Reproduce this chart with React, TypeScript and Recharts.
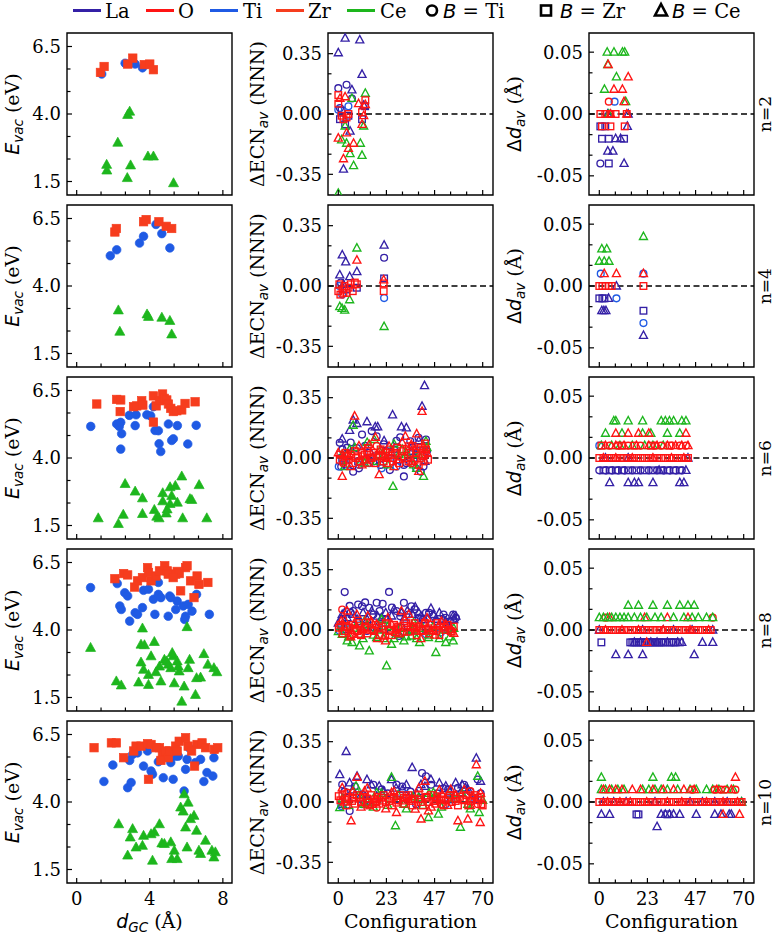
import React from 'react';
import { ScatterChart, Scatter, XAxis, YAxis, ReferenceArea, ReferenceLine } from 'recharts';

type XY = [number, number];
type Series = [string, XY[]];
type Band = [string, number, number[]];

// ---------- tick values and labels ----------
const xGcTicks = [0, 1.333, 2.667, 4, 5.333, 6.667, 8];
const xGcLabels = ['0', '', '', '4', '', '', '8'];
const xCfgTicks = [0, 7.78, 15.56, 23.33, 31.11, 38.89, 46.67, 54.44, 62.22, 70];
const xCfgLabels = ['0', '', '', '23', '', '', '47', '', '', '70'];
const yEvacTicks = [1.5, 2.333, 3.167, 4, 4.833, 5.667, 6.5];
const yEvacLabels = ['1.5', '', '', '4.0', '', '', '6.5'];
const yEcnTicks = [-0.35, -0.2333, -0.1167, 0, 0.1167, 0.2333, 0.35];
const yEcnLabels = ['-0.35', '', '', '0.00', '', '', '0.35'];
const yDdTicks = [-0.05, -0.0333, -0.0167, 0, 0.0167, 0.0333, 0.05];
const yDdLabels = ['-0.05', '', '', '0.00', '', '', '0.05'];
const rowNames = ['n=2', 'n=4', 'n=6', 'n=8', 'n=10'];
const legendElems = ['La', 'O', 'Ti', 'Zr', 'Ce'];
const legendSites = ['Ti', 'Zr', 'Ce'];

// ---------- column 1: E_vac vs d_GC ----------
const evacTiN2: XY[] = [[1.37, 5.48], [2.65, 5.88], [3.2, 5.85], [3.6, 5.71]];
const evacZrN2: XY[] = [[1.3, 5.54], [1.5, 5.76], [2.8, 5.85], [3.07, 6.07], [3.7, 5.83], [4.0, 5.85], [4.2, 5.64]];
const evacCeN2: XY[] = [[1.64, 2.12], [1.65, 1.91], [2.25, 2.94], [2.79, 3.97], [2.9, 4.09], [2.77, 1.63], [2.95, 2.1], [3.9, 2.43], [4.2, 2.43], [5.3, 1.44]];

const evacTiN4: XY[] = [[1.84, 5.12], [2.19, 5.34], [3.44, 5.59], [3.66, 5.84], [4.34, 6.28], [4.66, 5.94], [5.1, 5.41]];
const evacZrN4: XY[] = [[2.09, 6.0], [2.17, 6.13], [3.66, 6.38], [3.8, 6.46], [4.5, 6.38], [4.9, 6.21], [5.2, 6.13]];
const evacCeN4: XY[] = [[2.28, 3.1], [2.36, 2.31], [3.85, 2.95], [3.93, 2.86], [4.66, 2.83], [5.1, 2.71], [5.2, 2.21]];

const evacTiN6: XY[] = [[0.77, 5.17], [2.19, 5.26], [2.33, 5.17], [2.41, 5.32], [2.46, 4.9], [2.41, 4.33], [2.88, 5.58], [3.25, 5.6], [3.2, 5.2], [3.84, 5.6], [4.05, 5.56], [4.2, 5.9], [4.29, 5.02], [4.47, 5.01], [4.51, 4.53], [4.6, 4.24], [5.02, 5.26], [5.2, 4.65], [5.29, 4.71], [5.51, 5.2], [6.08, 4.52], [6.54, 5.21]];
const evacZrN6: XY[] = [[1.1, 6.0], [2.19, 6.17], [2.41, 6.15], [2.38, 5.72], [3.11, 5.9], [3.29, 5.93], [3.56, 6.12], [3.62, 5.96], [4.2, 6.3], [4.35, 5.93], [4.53, 6.12], [4.7, 6.37], [4.79, 6.21], [4.93, 6.15], [5.02, 6.0], [5.15, 5.84], [5.29, 5.72], [5.48, 5.75], [5.75, 5.78], [5.93, 6.02], [6.48, 6.08], [4.2, 5.33]];
const evacCeN6: XY[] = [[1.18, 1.77], [2.28, 1.56], [2.65, 3.04], [2.55, 1.9], [3.2, 2.76], [3.6, 2.51], [3.6, 1.93], [4.25, 2.08], [4.38, 1.83], [4.51, 1.77], [4.71, 2.7], [4.71, 2.4], [5.11, 2.3], [5.11, 2.92], [5.4, 2.97], [5.51, 2.35], [5.75, 3.32], [5.8, 1.77], [6.2, 2.48], [6.3, 2.45], [6.7, 3.0], [7.12, 1.77], [4.95, 2.1], [5.2, 2.6], [4.9, 1.95]];

const evacTiN8: XY[] = [[0.76, 5.57], [2.22, 5.72], [2.63, 5.38], [2.79, 5.26], [2.36, 4.89], [2.44, 4.76], [2.9, 4.33], [3.2, 4.64], [3.33, 4.58], [3.6, 4.83], [3.66, 5.47], [3.93, 5.51], [4.2, 5.14], [4.28, 4.58], [4.47, 5.76], [4.47, 5.32], [4.61, 5.2], [5.01, 4.51], [5.09, 5.26], [5.15, 5.2], [5.42, 4.76], [5.5, 5.07], [5.83, 4.89], [5.96, 4.51], [5.91, 4.39], [6.1, 4.95], [6.31, 4.7], [6.56, 5.32], [7.26, 4.58]];
const evacZrN8: XY[] = [[2.09, 5.9], [2.57, 6.09], [2.79, 6.04], [3.17, 5.59], [3.33, 5.82], [3.6, 5.94], [3.88, 6.31], [3.93, 6.13], [4.07, 5.82], [4.34, 6.0], [4.53, 6.19], [4.82, 6.38], [4.96, 6.19], [5.01, 6.07], [5.42, 6.07], [5.5, 6.17], [5.61, 6.09], [5.69, 5.45], [5.96, 6.31], [6.04, 6.38], [6.23, 5.82], [6.42, 5.2], [6.59, 6.0], [6.69, 5.69], [7.18, 5.76], [5.28, 5.94]];
const evacCeN8: XY[] = [[0.76, 3.34], [2.17, 2.1], [2.44, 1.95], [3.39, 2.06], [3.52, 3.46], [3.71, 3.44], [3.93, 2.34], [3.93, 1.97], [4.34, 2.44], [4.25, 3.56], [4.53, 2.65], [4.61, 2.1], [4.8, 2.9], [4.93, 2.84], [5.01, 2.72], [5.15, 2.59], [5.28, 3.03], [5.34, 2.03], [5.5, 2.84], [5.75, 1.35], [5.61, 2.47], [5.88, 1.91], [6.04, 4.11], [6.1, 2.59], [6.18, 2.9], [6.5, 1.6], [6.56, 2.22], [6.78, 2.24], [6.96, 3.11], [7.18, 2.72], [7.51, 2.59], [7.67, 2.44], [3.52, 2.8], [3.66, 2.53], [4.07, 3.03], [5.23, 3.15], [5.56, 2.65], [3.6, 4.06]];

const evacTiN10: XY[] = [[1.49, 4.76], [1.98, 5.37], [2.79, 4.53], [2.98, 4.72], [2.9, 5.54], [3.06, 5.76], [3.66, 5.33], [3.88, 5.89], [4.07, 5.15], [4.15, 5.03], [4.47, 5.49], [4.74, 4.9], [5.15, 5.46], [5.28, 4.84], [5.42, 5.7], [5.56, 5.7], [5.88, 4.41], [5.96, 5.21], [6.04, 5.58], [6.15, 6.01], [6.5, 5.46], [6.78, 5.58], [6.96, 4.76], [7.13, 5.09], [7.45, 4.96], [7.51, 5.64], [3.33, 5.82], [4.88, 5.76]];
const evacZrN10: XY[] = [[0.95, 6.01], [1.9, 6.19], [2.17, 6.19], [2.57, 5.64], [3.12, 5.89], [3.25, 6.07], [3.52, 6.07], [3.88, 6.16], [3.93, 4.84], [4.07, 6.13], [4.53, 6.01], [4.69, 5.82], [4.61, 5.54], [4.88, 5.89], [5.01, 5.64], [5.09, 5.89], [5.42, 6.07], [5.61, 6.25], [5.96, 6.38], [6.1, 6.07], [6.45, 5.33], [6.59, 6.13], [6.86, 6.19], [7.05, 6.01], [7.53, 5.95], [7.72, 6.01], [4.34, 6.01], [5.5, 5.89], [6.29, 5.89]];
const evacCeN10: XY[] = [[2.3, 3.18], [2.79, 2.02], [2.93, 2.69], [3.06, 3.0], [3.25, 2.32], [3.6, 2.38], [3.66, 2.75], [4.07, 2.81], [4.15, 1.83], [4.25, 2.88], [4.53, 3.18], [4.66, 2.47], [4.8, 2.45], [5.15, 2.51], [5.2, 1.89], [5.34, 2.2], [5.5, 1.89], [5.69, 3.8], [5.88, 4.29], [5.96, 3.06], [6.04, 2.32], [6.23, 3.37], [6.42, 3.49], [6.56, 2.94], [6.69, 2.2], [6.78, 2.08], [7.05, 2.57], [7.4, 2.2], [7.51, 1.95], [7.59, 2.14], [6.1, 3.98], [5.83, 3.65]];

// ---------- column 2: delta ECN_av vs configuration ----------
const ecnN2: Series[] = [
  ['Lc', [[0, 0.15], [4, 0.17], [6.6, 0.09], [0.8, 0.035]]],
  ['Ls', [[0.8, -0.03], [3.3, -0.06], [4.9, -0.01], [11.5, -0.03], [13, 0.045], [1.6, 0.02]]],
  ['Lt', [[3.3, 0.44], [10.4, 0.43], [0, 0.355], [11.5, 0.23], [6.6, 0.14], [2.5, -0.32], [5.7, -0.1], [12.3, 0.05]]],
  ['Tc', [[0, 0.025], [4.9, 0.045]]],
  ['Ct', [[13.1, 0.12], [6.6, 0.09], [3.3, -0.07], [1.6, -0.15], [4, -0.17], [5.7, -0.23], [7.4, -0.3], [10.7, -0.17], [11.5, -0.24], [0, -0.46], [12.3, -0.07]]],
  ['Os', [[0, 0.11], [0, 0.06], [1.6, -0.01], [4, -0.02], [2.5, -0.03], [4.9, 0.0], [13.1, 0.08], [11.5, 0.01]]],
  ['Ot', [[0.8, 0.09], [3.3, 0.1], [0, -0.14], [4, -0.11], [2.5, -0.26], [4.9, -0.2], [7.4, -0.17], [9.8, 0.06], [11.5, -0.06], [13.1, 0.055], [12.3, -0.01]]],
];
const ecnN4: Series[] = [
  ['Lc', [[22.2, 0.164], [1.2, 0.02]]],
  ['Ls', [[22.2, 0.044], [9, -0.01], [4, -0.02]]],
  ['Lt', [[1.9, 0.18], [3.6, 0.14], [0.7, 0.064], [5.5, 0.054], [9, 0.083], [22.2, 0.237], [2.5, 0.01]]],
  ['Tc', [[1.9, -0.05], [22.2, -0.07], [0.5, 0.0]]],
  ['Ct', [[9, 0.22], [0.7, -0.12], [3.1, -0.14], [5.5, -0.08], [22.2, -0.235], [1.8, -0.13]]],
  ['Os', [[0, -0.03], [1, -0.05], [2, -0.02], [3, 0.0], [4, -0.04], [5, -0.01], [6, 0.01], [7, -0.03], [8, 0.02], [9, 0.01], [22, 0.015], [22, -0.03], [0.5, 0.01], [2.5, -0.04]]],
  ['Ot', [[9, 0.15], [22, 0.035]]],
];
const ecnN6: Series[] = [
  ['Lc', [[0.7, 0.088], [1.4, -0.05], [4.3, 0.06], [7.2, -0.08], [11.5, 0.136], [16.2, 0.156], [18.6, 0.126], [20.5, -0.04], [23.4, 0.04], [28.2, 0.1], [31.8, -0.04], [31.8, -0.107], [34.9, 0.097], [38.9, 0.117], [37.7, 0.02], [41.3, -0.05], [42.5, 0.107], [9, 0.058], [15, 0.03], [2, 0.05], [6, 0.09], [10, -0.06], [13, 0.07], [17, -0.02], [22, 0.08], [25, -0.07], [27, 0.05], [30, 0.12], [33, -0.03], [36, 0.06], [40, -0.08], [43, 0.04]]],
  ['Ls', [[1.9, 0], [9.6, -0.02], [18.6, 0.01], [28.2, -0.01], [36.5, 0], [39.7, 0.04]]],
  ['Lt', [[1.9, 0.11], [5.5, 0.16], [7.2, 0.22], [9, 0.2], [13.9, 0.21], [17.9, 0.18], [19.1, 0.18], [22.2, 0.1], [26.3, 0.25], [30.6, 0.18], [33, 0.175], [40.6, 0.3], [41.8, 0.42], [39, 0.1], [4.3, -0.04], [12.7, -0.01], [25.8, 0.03], [35.4, 0.04], [42, -0.02]]],
  ['Tc', [[0.2, -0.05], [3.1, -0.01], [10.3, -0.04], [15, -0.03], [21, -0.06], [28.2, -0.05], [37.7, -0.06]]],
  ['Zs', [[11.5, 0.01], [25.8, 0.02], [40.1, 0]]],
  ['Ct', [[7.2, 0.19], [1.9, 0.02], [5.5, 0.05], [12.7, -0.03], [17.4, 0.107], [18.6, -0.02], [22.2, 0.02], [26.5, -0.165], [29.4, 0.02], [31, 0.05], [36.5, -0.04], [41.3, -0.107], [42.5, 0.097], [39, 0.02], [3, -0.05], [8, 0.06], [11, -0.02], [14, 0.09], [20, 0.04], [24, -0.04], [27, 0.08], [33, 0.03], [38, -0.06], [43, 0.06]]],
  ['Oc', [[2.4, -0.03], [18.6, 0.07], [35.4, -0.03]]],
  ['Os', [[0.7, -0.01], [4.3, 0.01], [8.6, 0], [12.7, 0.02], [16.2, 0], [21.5, 0.01], [25.8, 0], [30.6, 0.01], [34.2, 0.068], [37.7, 0.03], [41.8, 0.02], [42, 0.084], [14.3, 0.058], [23.4, -0.03], [41.3, -0.02], [1, 0.02], [2.5, -0.02], [3.5, 0.03], [5, -0.01], [6, 0.02], [7, -0.03], [8, 0.04], [9.5, 0.01], [10.5, -0.02], [11.5, 0.03], [13, -0.01], [14, 0.04], [15.5, 0.0], [17, 0.03], [18, -0.03], [19.5, 0.02], [20.5, 0.05], [22, -0.02], [23, 0.03], [24, 0.0], [25, 0.05], [26.5, -0.02], [27.5, 0.03], [28.5, 0.06], [29.5, -0.03], [31, 0.04], [32, 0.0], [33, 0.05], [34, -0.02], [35, 0.03], [36, 0.07], [37, -0.01], [38, 0.05], [39, -0.04], [40, 0.06], [41, 0.01], [42.5, 0.05], [43.5, -0.01]]],
  ['Ot', [[1.9, -0.107], [7.9, 0.243], [11.5, -0.04], [15, 0.078], [19.8, -0.097], [21, 0.04], [24.6, 0.068], [29.4, -0.01], [32.5, 0.126], [35.4, 0.078], [39, -0.078], [40.6, 0.27], [41.3, 0.068], [4.3, 0.02], [16.7, 0.01], [0, 0.03], [6, -0.05], [10, 0.07], [14, -0.03], [18, 0.12], [23, 0.0], [27, -0.05], [31, 0.09], [36, -0.02], [38, 0.14], [43, 0.03]]],
];
const ecnN8: Series[] = [
  ['Lc', [[3.1, 0.22], [5.5, 0.14], [7.2, 0.11], [9.6, 0.148], [11.5, 0.138], [15, 0.129], [18.6, 0.158], [21.5, 0.152], [24.6, 0.221], [28.2, 0.11], [31.8, 0.158], [35.4, 0.138], [38.9, 0.071], [42.5, 0.1], [46.1, 0.081], [52.1, 0.071], [55.7, 0.09], [1.4, 0.023], [13.9, -0.006], [29.4, -0.035], [2, 0.06], [6, 0.1], [10, 0.05], [13, 0.16], [17, 0.09], [20, 0.11], [23, 0.06], [26, 0.13], [30, 0.08], [34, 0.09], [37, 0.12], [41, 0.06], [44, 0.1], [48, 0.05], [51, 0.09], [54, 0.05], [57, 0.07]]],
  ['Ls', [[4.3, 0.004], [13.9, 0.023], [22.2, 0.004], [30.6, 0.013], [42.5, 0.004], [53.3, 0.004]]],
  ['Lt', [[1.9, 0.09], [4.3, 0.071], [9.1, 0.062], [16.2, 0.11], [21, 0.071], [25.8, 0.081], [30.6, 0.1], [33.4, 0.11], [37.3, 0.133], [40.1, 0.081], [44.9, 0.125], [47.3, 0.062], [50.9, 0.062], [53.3, 0.033], [55.7, 0.081], [18.6, 0.013], [35.4, -0.006], [0, 0.04], [3, 0.1], [7, 0.09], [12, 0.1], [14, 0.06], [19, 0.08], [23, 0.1], [27, 0.12], [32, 0.07], [36, 0.09], [39, 0.1], [42, 0.06], [46, 0.09], [49, 0.1], [52, 0.05], [56, 0.06], [57, 0.08]]],
  ['Tc', [[0.7, -0.006], [28.2, -0.025], [42.5, -0.025], [49.7, -0.015]]],
  ['Zs', [[10.3, 0.023], [37.7, 0.023]]],
  ['Ct', [[4.3, -0.063], [6.7, -0.073], [10.3, -0.092], [15, -0.121], [18.6, -0.044], [23.4, -0.208], [25.8, -0.083], [29.4, -0.025], [31.8, -0.063], [35.4, -0.035], [39.4, -0.073], [43.7, -0.044], [47.3, -0.131], [52.1, -0.073], [55.7, -0.063], [12.7, 0.052], [21, 0.062], [36.5, 0.042], [1.9, -0.025], [0, -0.01], [3, 0.02], [5, -0.04], [8, 0.01], [12, -0.05], [14, 0.03], [17, -0.03], [20, 0.0], [22, -0.05], [24, 0.02], [27, -0.05], [30, 0.01], [33, -0.04], [36, 0.0], [38, -0.05], [41, 0.01], [44, -0.03], [46, 0.02], [49, -0.05], [51, 0.0], [54, -0.04], [56, 0.01]]],
  ['Oc', [[1.9, 0.119], [6.7, -0.025], [16.2, 0.004], [33, 0.013]]],
  ['Os', [[0.2, 0.013], [3.1, -0.006], [5.5, 0.013], [9.1, -0.006], [12.7, 0.013], [17.4, -0.006], [19.8, 0.013], [24.6, -0.006], [28.2, 0.01], [31.8, -0.01], [36.5, 0.013], [40.1, -0.006], [43.7, 0.01], [47.3, -0.006], [50.9, 0.013], [54.5, -0.006], [1, 0.03], [2, -0.02], [4, 0.02], [6, -0.03], [7, 0.03], [8, 0.0], [10, 0.04], [11, -0.03], [13, 0.02], [14, -0.02], [15, 0.04], [16, 0.0], [18, 0.03], [20, -0.03], [21, 0.02], [23, 0.04], [25, 0.0], [26, -0.03], [27, 0.03], [29, 0.02], [30, -0.02], [33, 0.04], [34, -0.01], [35, 0.02], [37, 0.04], [38, -0.03], [39, 0.02], [41, 0.0], [42, 0.04], [44, -0.02], [45, 0.03], [46, 0.0], [48, 0.04], [49, -0.03], [51, 0.02], [52, 0.0], [53, 0.03], [55, -0.01], [56, 0.02]]],
  ['Ot', [[1.4, 0.052], [4.3, 0.11], [7.9, 0.042], [10.3, -0.025], [14.3, 0.081], [18.6, 0.033], [22.2, -0.035], [22.9, -0.063], [25.8, 0.033], [27.7, -0.015], [30.6, 0.11], [34.2, 0.09], [37.7, -0.006], [41.3, 0.042], [44.9, -0.006], [48.5, 0.023], [52.1, 0.033], [54.9, 0.004], [11.5, 0.004], [3, 0.06], [6, -0.04], [9, 0.09], [12, 0.0], [16, 0.05], [19, -0.05], [24, 0.07], [28, 0.0], [32, 0.06], [36, 0.02], [40, -0.05], [43, 0.07], [47, -0.03], [50, 0.05], [56, -0.02]]],
];
const ecnN10: Series[] = [
  ['Lc', [[1.9, 0.101], [5.5, -0.052], [15, 0.006], [21, 0.073], [28.2, 0.101], [40.6, 0.168], [42.5, 0.149], [53.3, 0.073], [58, 0.082], [67.6, 0.13], [37.7, -0.013], [3, 0.06], [8, 0.09], [12, 0.04], [17, 0.1], [24, 0.05], [31, 0.09], [35, 0.06], [45, 0.1], [48, 0.05], [51, 0.08], [56, 0.04], [61, 0.1], [64, 0.06], [69, 0.05]]],
  ['Ls', [[4.3, 0.025], [13.9, 0.015], [28.2, 0.015], [40.1, 0.025], [54.5, 0.015], [66.4, 0.015]]],
  ['Lt', [[0.7, 0.159], [3.8, 0.293], [5.5, 0.111], [9.1, 0.149], [13.9, 0.13], [19.8, 0.092], [25.8, 0.13], [31.1, 0.073], [35.8, 0.2], [40.1, 0.101], [44.9, 0.13], [52.1, 0.092], [56.9, 0.111], [61.6, 0.082], [66.9, 0.254], [59.2, 0.054], [47.3, 0.034], [18.6, 0.034], [1.9, -0.013], [7, 0.07], [11, 0.04], [16, 0.1], [22, 0.06], [28, 0.08], [33, 0.1], [38, 0.05], [42, 0.09], [49, 0.11], [54, 0.06], [60, 0.1], [63, 0.07], [69, 0.12]]],
  ['Tc', [[1.4, -0.023], [11.5, -0.013], [33, 0.044], [52.1, -0.013]]],
  ['Zs', [[18.6, 0.006], [47.3, 0.025]]],
  ['Ct', [[0.7, -0.033], [8.6, 0.092], [12.7, -0.013], [25.8, 0.143], [27.7, -0.138], [31.8, -0.013], [38.9, 0.025], [43.7, -0.09], [48.5, -0.071], [53.3, 0.044], [59.2, -0.147], [62.8, -0.013], [67.6, 0.149], [68.3, -0.061], [18.6, 0.054], [46.1, 0.054], [2, 0.02], [5, -0.02], [10, 0.04], [14, 0.0], [17, -0.03], [21, 0.05], [24, -0.02], [29, 0.04], [33, -0.04], [36, 0.03], [41, -0.02], [44, 0.05], [50, -0.03], [56, 0.02], [60, 0.05], [64, -0.04], [70, 0.01]]],
  ['Oc', [[4.3, 0.054], [18.6, -0.033], [35.4, 0.015], [49.7, -0.013], [64, 0.063], [67.6, -0.013]]],
  ['Os', [[0.2, 0.034], [3.1, 0.015], [6.7, 0.006], [10.3, 0.025], [13.9, -0.004], [17.4, 0.015], [21, 0.025], [24.6, 0.006], [28.2, -0.004], [31.8, 0.025], [35.4, 0.006], [38.9, 0.015], [42.5, 0.025], [46.1, 0.006], [49.7, 0.015], [53.3, 0.025], [56.9, 0.006], [60.4, 0.015], [64, 0.006], [67.6, 0.025], [69.3, -0.013], [1, 0.01], [2, 0.04], [4, -0.02], [5, 0.03], [7, 0.02], [8, -0.01], [9, 0.04], [11, 0.0], [12, 0.03], [14, 0.02], [15, -0.02], [16, 0.04], [18, 0.0], [19, 0.03], [20, -0.01], [22, 0.04], [23, 0.0], [25, 0.02], [26, -0.02], [27, 0.03], [29, 0.01], [30, 0.04], [32, -0.01], [33, 0.02], [34, 0.04], [36, -0.02], [37, 0.02], [39, 0.04], [40, 0.0], [41, -0.02], [43, 0.03], [44, 0.0], [45, 0.04], [47, -0.01], [48, 0.02], [50, 0.03], [51, -0.02], [52, 0.01], [54, 0.04], [55, 0.0], [57, 0.02], [58, -0.02], [59, 0.03], [61, 0.01], [62, 0.04], [63, -0.02], [65, 0.02], [66, 0.04], [68, 0.01], [69, 0.03], [70, -0.02]]],
  ['Ot', [[1.9, 0.082], [6.2, -0.109], [9.1, 0.143], [12.7, 0.063], [16.2, -0.013], [21.5, 0.006], [25.8, 0.054], [28.2, -0.061], [31.1, 0.006], [37.3, -0.042], [40.1, -0.099], [42, 0.12], [43.7, -0.052], [47.3, 0.006], [50.4, 0.044], [54.5, 0.073], [58, -0.109], [62.8, -0.099], [66.9, 0.216], [68.8, -0.119], [65.2, 0.034], [3, 0.0], [7, 0.06], [11, -0.03], [14, 0.08], [18, 0.02], [23, -0.04], [27, 0.06], [34, 0.03], [39, 0.08], [45, -0.03], [49, 0.07], [53, -0.02], [57, 0.04], [61, 0.07], [64, -0.02], [69, 0.05]]],
];

// ---------- column 3: delta d_av vs configuration (code, value, configurations) ----------
const ddN2: Band[] = [
  ['Lc', -0.04, [0.5]],
  ['Ls', -0.01, [0.5, 2.9]], ['Ls', -0.02, [1.3, 4.6, 12]], ['Ls', -0.04, [4.6]],
  ['Lt', 0, [4.1, 14]], ['Lt', -0.01, [13.6]], ['Lt', -0.02, [7.9, 10.3]], ['Lt', -0.03, [4.1, 6.6]], ['Lt', -0.04, [12]],
  ['Tc', 0.01, [7.4]],
  ['Ct', 0.05, [3.8, 7.1, 11.2, 12.3]], ['Ct', 0.04, [4.1]], ['Ct', 0.03, [8.3]], ['Ct', 0.02, [2.5]], ['Ct', 0.01, [12.8]], ['Ct', 0, [4.6]],
  ['Oc', 0.01, [4.6]],
  ['Os', 0, [0.5, 2.9, 5.4, 7.9, 13.3]], ['Os', -0.01, [1.3, 5.4, 12.3]],
  ['Ot', 0.04, [4.3]], ['Ot', 0.03, [14]], ['Ot', 0.02, [7.1, 11.2]], ['Ot', 0.01, [12]], ['Ot', 0, [5.5, 13.3]],
];
const ddN4: Band[] = [
  ['Ls', -0.01, [0, 1.5, 2.5]], ['Ls', -0.02, [21.4]],
  ['Lt', 0, [8.3]], ['Lt', -0.01, [4.5]], ['Lt', -0.02, [1.2, 2.2, 3.2]], ['Lt', -0.04, [21.4]],
  ['Tc', 0.01, [0.7, 21.4]], ['Tc', -0.01, [8.3]], ['Tc', -0.03, [21.4]],
  ['Ct', 0.04, [21.4]], ['Ct', 0.03, [1.2, 3.6]], ['Ct', 0.02, [0, 2.4, 4.7]],
  ['Os', 0, [0, 1.5, 3, 4.5, 6, 21.4]],
  ['Ot', 0.01, [2.4, 8.3, 21.4]],
];
const ddN6: Band[] = [
  ['Lc', -0.01, [0, 3, 6, 9, 12, 16, 20, 24, 28, 31, 34, 37, 40]],
  ['Ls', -0.01, [2, 5, 8, 11, 14, 18, 22, 26, 30, 33, 36, 39]],
  ['Lt', 0, [3, 14, 43]], ['Lt', -0.01, [29, 42]], ['Lt', -0.02, [5, 14, 17, 19, 26, 39, 41]],
  ['Tc', 0.01, [0]],
  ['Ct', 0.03, [7, 8, 14, 21, 30, 32, 34, 36, 40, 42]], ['Ct', 0.02, [3, 11, 21, 25, 33, 39]], ['Ct', 0.01, [1, 6, 10, 16, 22, 26, 31]],
  ['Oc', 0.01, [5, 9, 14, 20, 27, 30, 35, 39, 42]],
  ['Os', 0.01, [1, 11, 17, 25, 34]],
  ['Os', 0, [0, 2, 4, 6, 8, 10, 12, 14, 16, 18, 20, 22, 24, 26, 28, 30, 32, 34, 36, 38, 40, 42, 43]],
  ['Ot', 0.02, [8, 14, 19, 24, 42]], ['Ot', 0.01, [3, 8, 12, 18, 24, 28, 33, 37, 40, 43]], ['Ot', 0, [2, 8, 16, 26, 35, 41]],
];
const ddN8: Band[] = [
  ['Ls', -0.01, [1, 15, 16, 17, 18, 19, 20, 21, 22, 23, 24, 25, 26, 27, 28, 29, 30, 31, 32, 34, 35, 36, 37, 39]],
  ['Lt', 0, [0, 21, 31, 36, 45, 55]], ['Lt', -0.01, [17, 20, 25, 28, 33, 38, 40, 50, 55]], ['Lt', -0.02, [8, 14, 21, 46]],
  ['Os', 0, [0, 2, 4, 6, 8, 10, 12, 14, 16, 18, 20, 22, 24, 26, 28, 30, 32, 34, 36, 38, 40, 42, 44, 46, 48, 50, 52, 54]],
  ['Ot', 0.01, [5, 22, 33, 43]], ['Ot', 0, [3, 11, 19, 31, 44, 53]], ['Ot', -0.01, [23]],
  ['Oc', 0.01, [3, 55]],
  ['Ct', 0.02, [14, 19, 26, 33, 39, 43, 46]],
  ['Ct', 0.01, [0, 2, 4, 6, 8, 10, 12, 14, 17, 20, 23, 27, 30, 36, 41, 45, 48, 52, 55]],
];
const ddN10: Band[] = [
  ['Ls', -0.01, [18, 19, 33]],
  ['Lt', 0, [2, 7, 13, 27, 44, 50, 56, 62, 69]],
  ['Lt', -0.01, [1, 5, 30, 32, 34, 36, 39, 47, 56, 59, 63, 64]], ['Lt', -0.02, [28]],
  ['Ct', 0.02, [1, 26, 35, 37]],
  ['Ct', 0.01, [1, 3, 6, 9, 12, 21, 24, 27, 30, 33, 38, 44, 47, 52, 55, 58, 62, 65]], ['Ct', 0, [69]],
  ['Oc', 0.01, [45, 56, 59, 61, 66]],
  ['Os', 0, [0, 2, 4, 6, 8, 10, 12, 14, 16, 18, 20, 22, 24, 26, 28, 30, 32, 34, 36, 38, 40, 42, 44, 46, 48, 50, 52, 54, 56, 58, 60, 62, 64, 66, 68, 69]],
  ['Ot', 0.02, [66]], ['Ot', 0.01, [2, 5, 8, 11, 16, 20, 26, 31, 36, 41, 46, 57, 64]], ['Ot', 0, [4, 10, 15, 23, 33, 40, 52, 60, 67]], ['Ot', -0.01, [60, 68]],
];

// ---------- styling ----------
const FONT = "'DejaVu Serif', 'Liberation Serif', serif";
const MATH = "'DejaVu Sans', sans-serif";
const COLORS: Record<string, string> = { La: '#3420a6', O: '#ff1414', Ti: '#1f5ae4', Zr: '#f63d1e', Ce: '#1db61d' };
const ELEM: Record<string, string> = { L: 'La', O: 'O', T: 'Ti', Z: 'Zr', C: 'Ce' };

const PLOT_W = 165;
const PLOT_H = 162;
const AX_W = 64;
const AX_H = 40;
const PAD = 4;
const COL_LEFT = [67, 328, 589];
const ROW_TOP = [33, 205.1, 377.2, 549.3, 721.4];
const TICK_FS = 18;
const TITLE_FS = 19;
const SUB_FS = 13.5;
const LEG_FS = 19.5;

function bandsToSeries(bands: Band[]): Series[] {
  const order: string[] = [];
  const map: Record<string, XY[]> = {};
  bands.forEach(([code, v, cfgs]) => {
    if (!map[code]) {
      map[code] = [];
      order.push(code);
    }
    cfgs.forEach((c) => map[code].push([c, v]));
  });
  return order.map((c) => [c, map[c]] as Series);
}

function Marker({ cx, cy, code, filled }: { cx?: number; cy?: number; code: string; filled: boolean }) {
  if (cx == null || cy == null || isNaN(cx) || isNaN(cy)) return null;
  const color = COLORS[ELEM[code[0]]];
  const sh = code[1];
  const fill = filled ? color : 'none';
  const sw = filled ? 0.7 : 1.35;
  if (sh === 'c') {
    const r = filled ? 4.3 : 3.4;
    return <circle cx={cx} cy={cy} r={r} fill={fill} stroke={color} strokeWidth={sw} />;
  }
  if (sh === 's') {
    const s = filled ? 8.4 : 6.6;
    return <rect x={cx - s / 2} y={cy - s / 2} width={s} height={s} fill={fill} stroke={color} strokeWidth={sw} />;
  }
  const w = filled ? 10 : 8;
  const h = filled ? 9 : 7.4;
  return (
    <polygon
      points={`${cx},${cy - h * 0.6} ${cx - w / 2},${cy + h * 0.4} ${cx + w / 2},${cy + h * 0.4}`}
      fill={fill}
      stroke={color}
      strokeWidth={sw}
    />
  );
}

function findIdx(ticks: number[], v: number) {
  return ticks.findIndex((t) => Math.abs(t - v) < 1e-6);
}

function makeXTick(ticks: number[], labels: string[], show: boolean) {
  return (p: any) => {
    const lab = labels[findIdx(ticks, p.payload.value)] || '';
    const major = lab !== '';
    return (
      <g>
        <line x1={p.x} y1={p.y} x2={p.x} y2={p.y - (major ? 5 : 3.5)} stroke="#000" strokeWidth={1.2} />
        {show && major && (
          <text x={p.x} y={p.y + 21.5} textAnchor="middle" fontFamily={FONT} fontSize={TICK_FS} fill="#000">
            {lab}
          </text>
        )}
      </g>
    );
  };
}

function makeYTick(ticks: number[], labels: string[]) {
  return (p: any) => {
    const lab = labels[findIdx(ticks, p.payload.value)] || '';
    const major = lab !== '';
    return (
      <g>
        <line x1={p.x} y1={p.y} x2={p.x + (major ? 5 : 3.5)} y2={p.y} stroke="#000" strokeWidth={1.2} />
        {major && (
          <text x={p.x - 6} y={p.y} dy="0.36em" textAnchor="end" fontFamily={FONT} fontSize={TICK_FS} fill="#000">
            {lab}
          </text>
        )}
      </g>
    );
  };
}

type PanelProps = {
  left: number;
  top: number;
  xDomain: [number, number];
  xTicks: number[];
  xLabels: string[];
  showX: boolean;
  yDomain: [number, number];
  yTicks: number[];
  yLabels: string[];
  series: Series[];
  filled: boolean;
  zero: boolean;
};

function Panel(props: PanelProps) {
  const { left, top, xDomain, xTicks, xLabels, showX, yDomain, yTicks, yLabels, series, filled, zero } = props;
  return (
    <div style={{ position: 'absolute', left: left - AX_W, top: top - PAD }}>
      <ScatterChart
        width={AX_W + PLOT_W + PAD}
        height={PAD + PLOT_H + AX_H}
        margin={{ top: PAD, right: PAD, bottom: 0, left: 0 }}
      >
        <XAxis
          type="number"
          dataKey="x"
          domain={xDomain}
          ticks={xTicks}
          interval={0}
          allowDataOverflow
          height={AX_H}
          tickSize={0}
          tickMargin={0}
          tickLine={false}
          axisLine={false}
          tick={makeXTick(xTicks, xLabels, showX)}
        />
        <YAxis
          type="number"
          dataKey="y"
          domain={yDomain}
          ticks={yTicks}
          interval={0}
          allowDataOverflow
          width={AX_W}
          tickSize={0}
          tickMargin={0}
          tickLine={false}
          axisLine={false}
          tick={makeYTick(yTicks, yLabels)}
        />
        {series.map(([code, pts]) => (
          <Scatter
            key={code}
            data={pts.map(([x, y]) => ({ x, y }))}
            isAnimationActive={false}
            shape={(p: any) => <Marker cx={p.cx} cy={p.cy} code={code} filled={filled} />}
          />
        ))}
        {zero && <ReferenceLine y={0} stroke="#000" strokeWidth={1.5} strokeDasharray="6 3.5" />}
        <ReferenceArea
          x1={xDomain[0]}
          x2={xDomain[1]}
          y1={yDomain[0]}
          y2={yDomain[1]}
          fill="none"
          fillOpacity={0}
          stroke="#000"
          strokeWidth={1.4}
          ifOverflow="visible"
        />
      </ScatterChart>
    </div>
  );
}

const rowsEvac: [XY[], XY[], XY[]][] = [
  [evacTiN2, evacZrN2, evacCeN2],
  [evacTiN4, evacZrN4, evacCeN4],
  [evacTiN6, evacZrN6, evacCeN6],
  [evacTiN8, evacZrN8, evacCeN8],
  [evacTiN10, evacZrN10, evacCeN10],
];
const rowsEcn: Series[][] = [ecnN2, ecnN4, ecnN6, ecnN8, ecnN10];
const rowsDd: Band[][] = [ddN2, ddN4, ddN6, ddN8, ddN10];

const LEG_LINE_X = [73, 146, 210, 276, 347];
const LEG_TEXT_X = [105, 178, 243, 308, 380];
const LEG_MARK_X = [432, 546, 661];
const LEG_MTEXT_X = [443, 560, 672];

export default function App() {
  return (
    <div style={{ position: 'absolute', left: 0, top: 0, width: 776, height: 939, background: '#fff', overflow: 'hidden' }}>
      {ROW_TOP.map((top, r) => (
        <React.Fragment key={r}>
          <Panel
            left={COL_LEFT[0]}
            top={top}
            xDomain={[-0.53, 8.5]}
            xTicks={xGcTicks}
            xLabels={xGcLabels}
            showX={r === 4}
            yDomain={[1, 7]}
            yTicks={yEvacTicks}
            yLabels={yEvacLabels}
            series={[['Tc', rowsEvac[r][0]], ['Zs', rowsEvac[r][1]], ['Ct', rowsEvac[r][2]]]}
            filled
            zero={false}
          />
          <Panel
            left={COL_LEFT[1]}
            top={top}
            xDomain={[-5, 75]}
            xTicks={xCfgTicks}
            xLabels={xCfgLabels}
            showX={r === 4}
            yDomain={[-0.47, 0.47]}
            yTicks={yEcnTicks}
            yLabels={yEcnLabels}
            series={rowsEcn[r]}
            filled={false}
            zero
          />
          <Panel
            left={COL_LEFT[2]}
            top={top}
            xDomain={[-5, 75]}
            xTicks={xCfgTicks}
            xLabels={xCfgLabels}
            showX={r === 4}
            yDomain={[-0.0655, 0.0655]}
            yTicks={yDdTicks}
            yLabels={yDdLabels}
            series={bandsToSeries(rowsDd[r])}
            filled={false}
            zero
          />
        </React.Fragment>
      ))}
      <svg width={776} height={939} style={{ position: 'absolute', left: 0, top: 0, pointerEvents: 'none' }}>
        {/* legend */}
        {legendElems.map((el, i) => (
          <g key={el}>
            <line x1={LEG_LINE_X[i]} x2={LEG_LINE_X[i] + 28} y1={10.5} y2={10.5} stroke={COLORS[el]} strokeWidth={3} />
            <text x={LEG_TEXT_X[i]} y={17.5} fontFamily={FONT} fontSize={LEG_FS} fill="#000">
              {el}
            </text>
          </g>
        ))}
        <circle cx={LEG_MARK_X[0]} cy={10.5} r={5} fill="none" stroke="#000" strokeWidth={2.6} />
        <rect x={LEG_MARK_X[1] - 5} y={5.5} width={10} height={10} fill="none" stroke="#000" strokeWidth={2.6} />
        <polygon
          points={`${LEG_MARK_X[2]},${4} ${LEG_MARK_X[2] - 6},${15.5} ${LEG_MARK_X[2] + 6},${15.5}`}
          fill="none"
          stroke="#000"
          strokeWidth={2.6}
        />
        {legendSites.map((s, i) => (
          <text key={s} x={LEG_MTEXT_X[i]} y={17.5} fontFamily={FONT} fontSize={LEG_FS} fill="#000">
            <tspan fontFamily={MATH} fontStyle="italic">B</tspan>
            <tspan> = {s}</tspan>
          </text>
        ))}

        {/* y titles and row names */}
        {ROW_TOP.map((top, r) => {
          const cy = top + PLOT_H / 2;
          return (
            <g key={r}>
              <text x={19} y={cy} transform={`rotate(-90 19 ${cy})`} textAnchor="middle" fontFamily={FONT} fontSize={TITLE_FS} fill="#000">
                <tspan fontFamily={MATH} fontStyle="italic">E</tspan>
                <tspan fontFamily={MATH} fontStyle="italic" fontSize={SUB_FS} dy={4}>vac</tspan>
                <tspan dy={-4}> (eV)</tspan>
              </text>
              <text x={264} y={cy} transform={`rotate(-90 264 ${cy})`} textAnchor="middle" fontFamily={FONT} fontSize={TITLE_FS} fill="#000">
                <tspan>ΔECN</tspan>
                <tspan fontFamily={MATH} fontStyle="italic" fontSize={SUB_FS} dy={4}>av</tspan>
                <tspan dy={-4}> (NNN)</tspan>
              </text>
              <text x={521} y={cy} transform={`rotate(-90 521 ${cy})`} textAnchor="middle" fontFamily={FONT} fontSize={TITLE_FS} fill="#000">
                <tspan fontFamily={MATH}>Δ</tspan>
                <tspan fontFamily={MATH} fontStyle="italic">d</tspan>
                <tspan fontFamily={MATH} fontStyle="italic" fontSize={SUB_FS} dy={4}>av</tspan>
                <tspan dy={-4}> (Å)</tspan>
              </text>
              <text x={771} y={cy} transform={`rotate(-90 771 ${cy})`} textAnchor="middle" fontFamily={FONT} fontSize={17} fill="#000">
                {rowNames[r]}
              </text>
            </g>
          );
        })}

        {/* x titles */}
        <text x={COL_LEFT[0] + PLOT_W / 2} y={928} textAnchor="middle" fontFamily={FONT} fontSize={TITLE_FS} fill="#000">
          <tspan fontFamily={MATH} fontStyle="italic">d</tspan>
          <tspan fontFamily={MATH} fontStyle="italic" fontSize={SUB_FS} dy={4}>GC</tspan>
          <tspan dy={-4}> (Å)</tspan>
        </text>
        <text x={COL_LEFT[1] + PLOT_W / 2} y={928} textAnchor="middle" fontFamily={FONT} fontSize={TITLE_FS} fill="#000">
          Configuration
        </text>
        <text x={COL_LEFT[2] + PLOT_W / 2} y={928} textAnchor="middle" fontFamily={FONT} fontSize={TITLE_FS} fill="#000">
          Configuration
        </text>
      </svg>
    </div>
  );
}
